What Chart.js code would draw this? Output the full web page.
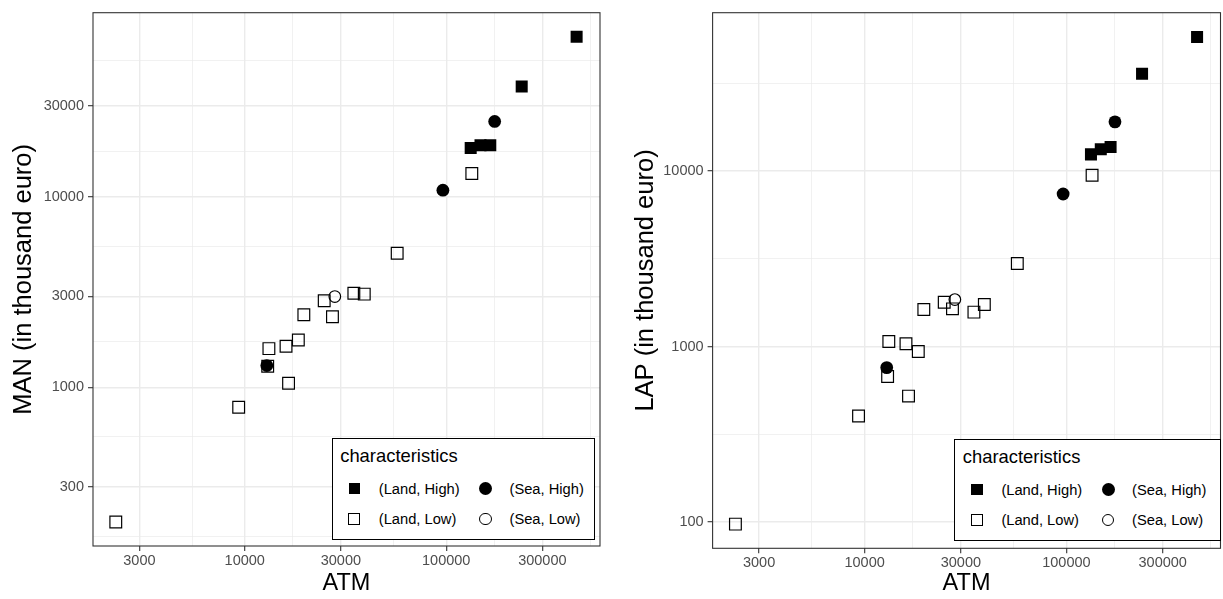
<!DOCTYPE html>
<html>
<head>
<meta charset="utf-8">
<script src="https://cdn.jsdelivr.net/npm/chart.js@4.4.1/dist/chart.umd.min.js"></script>
<style>
  body { margin: 0; width: 1223px; height: 599px; overflow: hidden; background: #fff; position: relative; }
  .panel { position: absolute; top: 0; }
  .legend { position: absolute; width: 261px; height: 100px; border: 1.5px solid #000; background: #fff;
            font-family: "Liberation Sans", Arial, sans-serif; color: #000; }
  .legend div { position: absolute; white-space: nowrap; }
  .ltitle { font-size: 18.4px; height: 22px; line-height: 22px; }
  .ltext { font-size: 14.7px; height: 20px; line-height: 20px; }
  .mk { box-sizing: border-box; }
</style>
</head>
<body>
<canvas id="chartMan" class="panel" width="612" height="599" style="left:0px"></canvas>
<canvas id="chartLap" class="panel" width="618" height="599" style="left:612px"></canvas>
<script>
// datos de cada país (ATM, MAN, LAP en miles de euros)
const atm = [444000, 237000, 174000, 165500, 148000, 132300, 134000, 96300, 57100, 39200, 34800, 28000,
             27250, 24800, 19650, 18450, 16030, 16500, 13180, 12870, 13000, 9330, 2290];
const man = [69400, 38000, 24900, 18650, 18650, 18050, 13260, 10840, 5060, 3083, 3120, 2995,
             2345, 2844, 2403, 1770, 1640, 1049, 1595, 1299, 1290, 785, 196];
const lap = [58100, 35900, 19100, 13730, 13320, 12470, 9490, 7415, 2976, 1738, 1574, 1856,
             1643, 1792, 1630, 940, 1039, 523, 1070, 760, 676, 403, 97.5];
const zone = ["Land", "Land", "Sea", "Land", "Land", "Land", "Land", "Sea", "Land", "Land", "Land", "Sea",
              "Land", "Land", "Land", "Land", "Land", "Land", "Land", "Sea", "Land", "Land", "Land"];
const level = ["High", "High", "High", "High", "High", "High", "Low", "High", "Low", "Low", "Low", "Low",
               "Low", "Low", "Low", "Low", "Low", "Low", "Low", "High", "Low", "Low", "Low"];

// etiquetas de los ejes
const atmTicks = [3000, 10000, 30000, 100000, 300000];
const manTicks = [300, 1000, 3000, 10000, 30000];
const lapTicks = [100, 1000, 10000];

// grupos de la leyenda
const groups = [
    { zone: "Land", level: "High", style: "rect", fill: true, order: 2 },
    { zone: "Sea", level: "High", style: "circle", fill: true, order: 0 },
    { zone: "Land", level: "Low", style: "rect", fill: false, order: 3 },
    { zone: "Sea", level: "Low", style: "circle", fill: false, order: 1 }
];

const FONT = "'Liberation Sans', Arial, sans-serif";
Chart.defaults.font.family = FONT;

// líneas menores en el punto medio (log) entre las mayores
function withMinor(major, min, max) {
    const all = major.slice();
    for (let i = 0; i < major.length - 1; i++) all.push(Math.sqrt(major[i] * major[i + 1]));
    all.push(major[0] / Math.sqrt(major[1] / major[0]));
    const n = major.length;
    all.push(major[n - 1] * Math.sqrt(major[n - 1] / major[n - 2]));
    return all.filter(v => v >= min && v <= max).sort((a, b) => a - b);
}

function logAxis(major, min, max, title, titleSize, extra) {
    const all = withMinor(major, min, max);
    const isMajor = v => major.includes(v);
    return Object.assign({
        type: "logarithmic",
        min: min,
        max: max,
        afterBuildTicks: scale => { scale.ticks = all.map(v => ({ value: v })); },
        ticks: {
            autoSkip: false,
            maxRotation: 0,
            minRotation: 0,
            color: "#4d4d4d",
            font: { size: 14.5 },
            callback: v => isMajor(v) ? String(v) : ""
        },
        grid: {
            color: "#ebebeb",
            lineWidth: c => isMajor(c.tick.value) ? 1.4 : 0.7,
            tickColor: c => isMajor(c.tick.value) ? "#333333" : "rgba(0,0,0,0)",
            tickLength: 5,
            tickWidth: 1.1
        },
        border: { display: false },
        title: {
            display: true,
            text: title,
            color: "#000",
            font: { size: titleSize, lineHeight: 1.2 }
        }
    }, extra);
}

const panelBorder = {
    id: "panelBorder",
    afterDatasetsDraw(chart) {
        const { ctx, chartArea: a } = chart;
        ctx.save();
        ctx.strokeStyle = "#333333";
        ctx.lineWidth = 1.1;
        ctx.strokeRect(a.left, a.top, a.right - a.left, a.bottom - a.top);
        ctx.restore();
    }
};

function makeChart(id, yVals, yTicks, yMin, yMax, yTitle, lay) {
    const datasets = groups.map(g => {
        const pts = [];
        atm.forEach((x, i) => {
            if (zone[i] === g.zone && level[i] === g.level) pts.push({ x: x, y: yVals[i] });
        });
        const r = g.style === "rect" ? (g.fill ? 8.5 : 8.3) : (g.fill ? 6.4 : 5.8);
        return {
            label: "(" + g.zone + ", " + g.level + ")",
            data: pts,
            order: g.order,
            pointStyle: g.style,
            pointRadius: r,
            pointHoverRadius: r,
            pointBackgroundColor: g.fill ? "#000" : "rgba(0,0,0,0)",
            pointBorderColor: "#000",
            pointBorderWidth: g.fill ? 0 : 1.2
        };
    });

    const xAxis = logAxis(atmTicks, 1765, 580000, "ATM", 23.5, {
        afterFit: s => { s.height = lay.xHeight; }
    });
    xAxis.ticks.padding = 1;
    xAxis.title.padding = { top: 0, bottom: 1 };

    const yAxis = logAxis(yTicks, yMin, yMax, yTitle, 25.5, {
        afterFit: s => { s.width = lay.yWidth; }
    });
    yAxis.ticks.padding = 4;
    yAxis.title.padding = { top: lay.titlePad, bottom: 0 };

    return new Chart(document.getElementById(id), {
        type: "scatter",
        data: { datasets: datasets },
        options: {
            responsive: false,
            animation: false,
            events: [],
            devicePixelRatio: 1,
            layout: { padding: { top: lay.top, right: lay.right, bottom: 0, left: 0 } },
            plugins: { legend: { display: false }, tooltip: { enabled: false } },
            scales: { x: xAxis, y: yAxis }
        },
        plugins: [panelBorder]
    });
}

makeChart("chartMan", man, manTicks, 146.5, 92800, "MAN (in thousand euro)",
    { top: 11, right: 12, xHeight: 53, yWidth: 93, titlePad: 8.7 });
makeChart("chartLap", lap, lapTicks, 71, 80000, "LAP (in thousand euro)",
    { top: 8, right: 4, xHeight: 50.7, yWidth: 100.6, titlePad: 18.7 });

// leyenda dentro de cada panel
function addLegend(left, top, width) {
    const box = document.createElement("div");
    box.className = "legend";
    box.style.left = left + "px";
    box.style.top = top + "px";
    box.style.width = width + "px";
    let html = '<div class="ltitle" style="left:7.5px; top:6.2px">characteristics</div>';
    const rowY = { High: 49.5, Low: 79.5 };
    const colX = { Land: 21.8, Sea: 152.8 };
    const textX = { Land: 46.1, Sea: 176.8 };
    groups.forEach(g => {
        const cx = colX[g.zone], cy = rowY[g.level];
        const size = g.style === "rect" ? (g.fill ? 11.3 : 12) : (g.fill ? 13 : 12.2);
        const css = "left:" + (cx - size / 2) + "px; top:" + (cy - size / 2) + "px; width:" + size +
            "px; height:" + size + "px; " +
            (g.fill ? "background:#000;" : "border:1.2px solid #000;") +
            (g.style === "circle" ? " border-radius:50%;" : "");
        html += '<div class="mk" style="' + css + '"></div>';
        html += '<div class="ltext" style="left:' + textX[g.zone] + 'px; top:' + (cy - 10) + 'px">(' +
            g.zone + ", " + g.level + ")</div>";
    });
    box.innerHTML = html;
    document.body.appendChild(box);
}
addLegend(331.7, 438.3, 261.3);
addLegend(954.3, 439.3, 264.4);
</script>
</body>
</html>
